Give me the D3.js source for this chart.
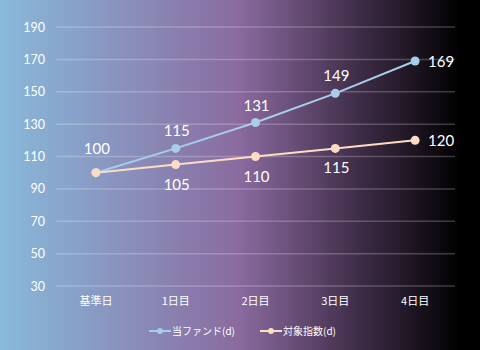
<!DOCTYPE html>
<html><head><meta charset="utf-8">
<script src="https://cdn.jsdelivr.net/npm/d3@7"></script>
<style>html,body{margin:0;padding:0;}svg{display:block;}</style>
</head><body>
<script>
const categories = ["基準日","1日目","2日目","3日目","4日目"];
const fundValues = [100,115,131,149,169];
const indexValues = [100,105,110,115,120];
const yTicks = [30,50,70,90,110,130,150,170,190];
const seriesNames = ["当ファンド(d)","対象指数(d)"];

const W=480,H=350;
const svg=d3.select("body").append("svg").attr("width",W).attr("height",H);
const defs=svg.append("defs");
const g=defs.append("linearGradient").attr("id","bg").attr("x1","0").attr("x2","1").attr("y1","0").attr("y2","0");
g.append("stop").attr("offset","0%").attr("stop-color","#88badb");
g.append("stop").attr("offset","50%").attr("stop-color","#8a6a9f");
g.append("stop").attr("offset","75%").attr("stop-color","#3e2c47");
g.append("stop").attr("offset","96%").attr("stop-color","#000");
g.append("stop").attr("offset","100%").attr("stop-color","#000");
svg.append("rect").attr("width",W).attr("height",H).attr("fill","url(#bg)");

const x=d3.scaleBand().domain(categories).range([56,455]);
const y=d3.scaleLinear().domain([30,190]).range([286,27]);
const cx=d=>x(d)+x.bandwidth()/2;
const font="'Noto Sans CJK JP','Noto Sans',sans-serif";
const numFont="Lato,'Noto Sans',sans-serif";

// grid
svg.append("g").selectAll("line").data(yTicks).join("line")
 .attr("x1",56).attr("x2",455).attr("y1",d=>y(d)).attr("y2",d=>y(d))
 .attr("stroke","rgba(255,255,255,0.22)").attr("stroke-width",1.5);

// y axis
const ya=svg.append("g").attr("transform","translate(45,0)")
 .call(d3.axisLeft(y).tickValues(yTicks).tickSize(0).tickPadding(0));
ya.select(".domain").remove();
ya.selectAll("text").attr("fill","#fff").attr("font-size",12.5).attr("font-family",numFont);

// x axis
const xa=svg.append("g").attr("transform","translate(0,297)")
 .call(d3.axisBottom(x).tickSize(0).tickPadding(0));
xa.select(".domain").remove();
xa.selectAll("text").attr("fill","#fff").attr("font-size",11).attr("font-family",font).attr("dy","0.75em");

const series=[
 {name:seriesNames[0],values:fundValues,color:"#a7cdeb"},
 {name:seriesNames[1],values:indexValues,color:"#fddcc4"}
];
const line=d3.line().x((d,i)=>cx(categories[i])).y(d=>y(d));
series.forEach(s=>{
 svg.append("path").datum(s.values).attr("d",line).attr("fill","none")
  .attr("stroke",s.color).attr("stroke-width",2);
 svg.append("g").selectAll("circle").data(s.values).join("circle")
  .attr("cx",(d,i)=>cx(categories[i])).attr("cy",d=>y(d)).attr("r",4.5).attr("fill",s.color);
});

// labels
const labels=svg.append("g").attr("font-family",numFont).attr("font-size",15).attr("fill","#fff");
fundValues.forEach((v,i)=>{
 const last=i===categories.length-1;
 labels.append("text").text(v)
  .attr("x",last?cx(categories[i])+13:cx(categories[i])+1)
  .attr("y",last?y(v)+6:y(v)-(i===0?19:12))
  .attr("text-anchor",last?"start":"middle");
});
indexValues.forEach((v,i)=>{
 if(i===0) return;
 const last=i===categories.length-1;
 labels.append("text").text(v)
  .attr("x",last?cx(categories[i])+13:cx(categories[i])+1)
  .attr("y",last?y(v)+6:y(v)+25)
  .attr("text-anchor",last?"start":"middle");
});

// legend
const lg=svg.append("g").attr("font-family",font).attr("font-size",10).attr("fill","#fff");
const legX=[149,260];
series.forEach((s,i)=>{
 const gx=legX[i], gy=331;
 lg.append("line").attr("x1",gx).attr("x2",gx+22).attr("y1",gy).attr("y2",gy)
  .attr("stroke",s.color).attr("stroke-width",2);
 lg.append("circle").attr("cx",gx+11).attr("cy",gy).attr("r",3).attr("fill",s.color);
 lg.append("text").text(s.name).attr("x",gx+23).attr("y",gy+4);
});
</script>
</body></html>
